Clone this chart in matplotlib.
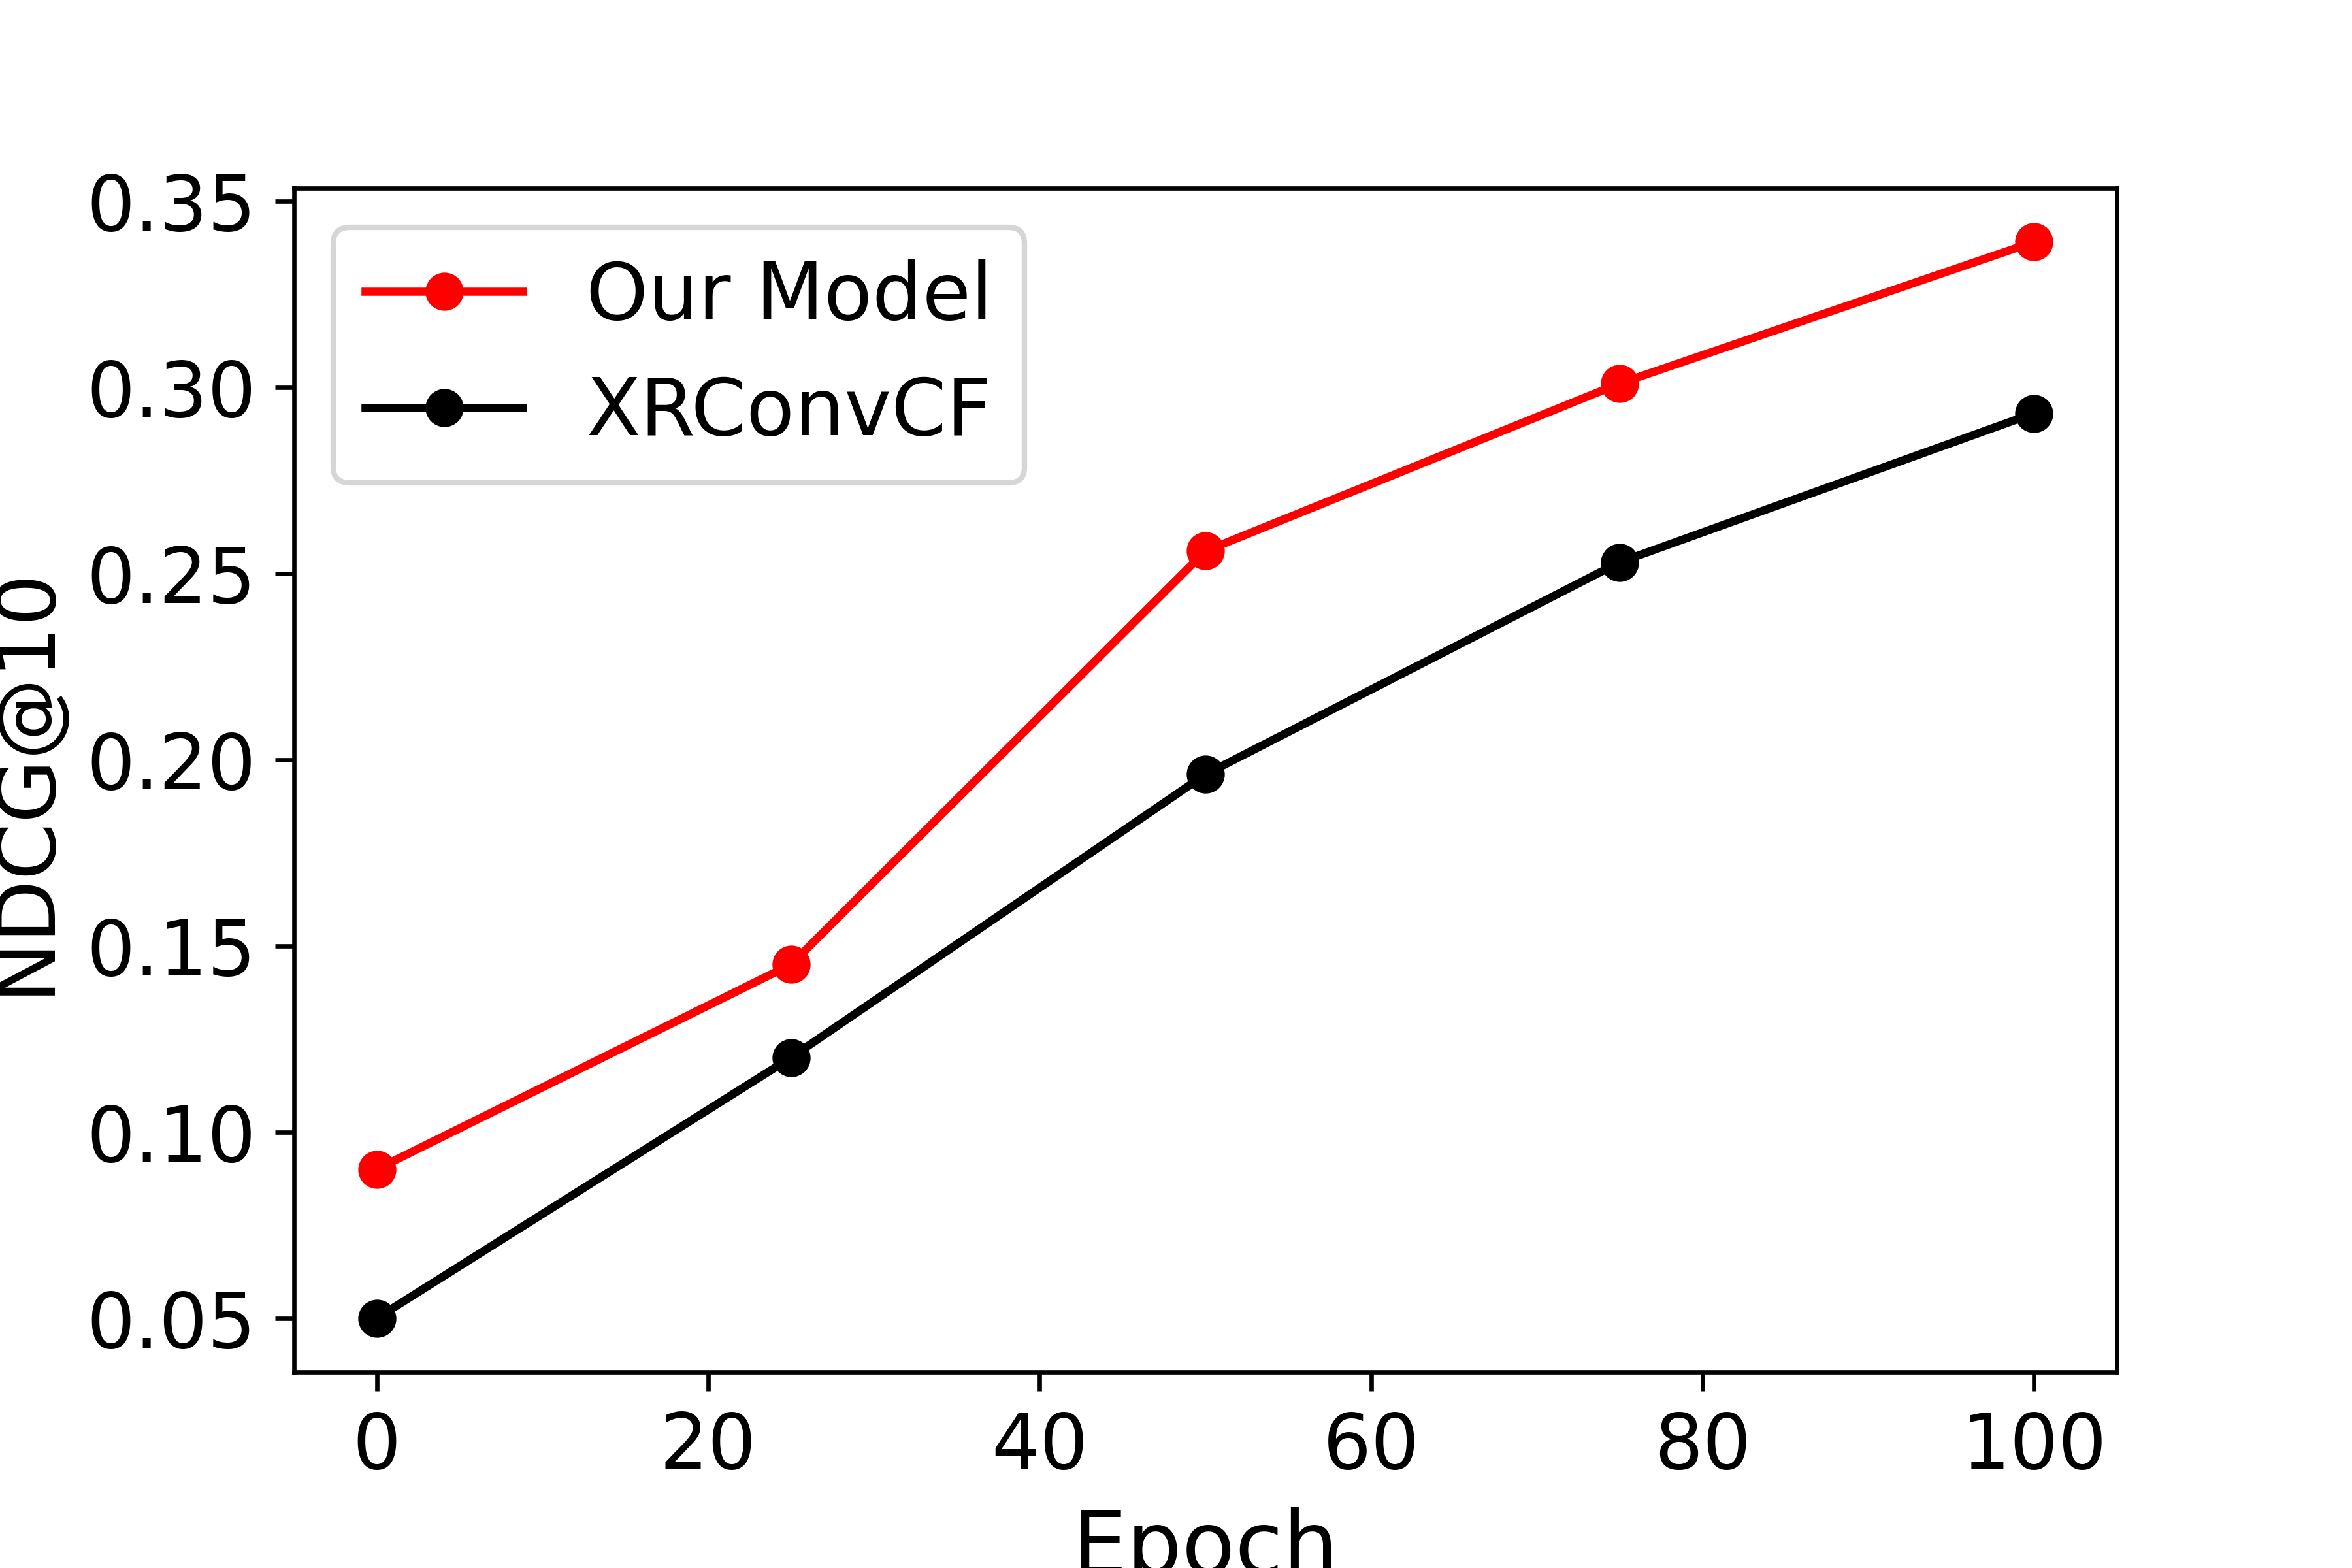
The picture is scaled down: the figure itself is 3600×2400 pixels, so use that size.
import matplotlib
matplotlib.use("Agg")
import matplotlib.pyplot as plt

epochs = [0, 25, 50, 75, 100]
our_model = [0.090, 0.145, 0.256, 0.301, 0.339]
xrconvcf = [0.050, 0.120, 0.196, 0.253, 0.293]

fig, ax = plt.subplots(figsize=(6, 4))
fig.subplots_adjust(bottom=0.125)

ax.plot(epochs, our_model, color="red", marker="o", label="Our Model")
ax.plot(epochs, xrconvcf, color="black", marker="o", label="XRConvCF")

ax.set_xlabel("Epoch", fontsize=16)
ax.set_ylabel("NDCG@10", fontsize=15)
ax.set_xticks([0, 20, 40, 60, 80, 100])
ax.set_yticks([0.05, 0.10, 0.15, 0.20, 0.25, 0.30, 0.35])
ax.tick_params(labelsize=14)
ax.legend(loc="upper left", fontsize=14.5)

fig.savefig("out.png", dpi=600)
